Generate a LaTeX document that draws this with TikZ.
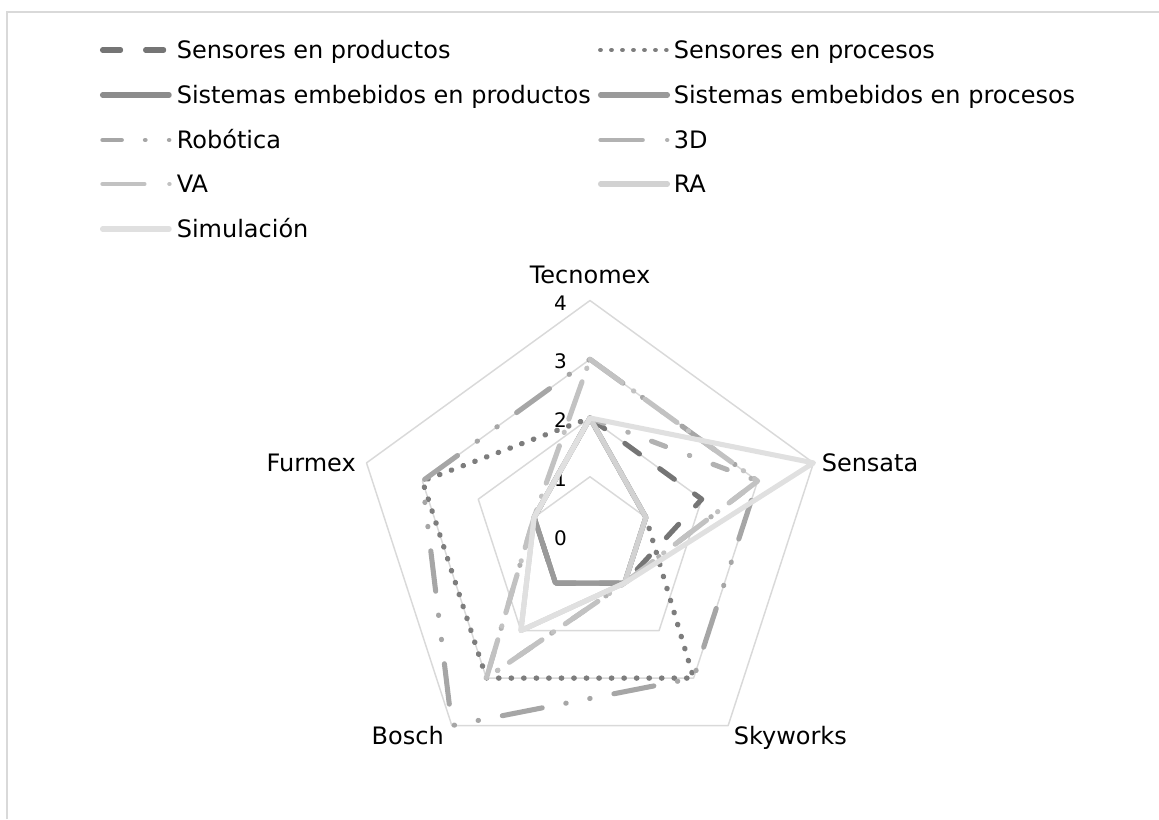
\documentclass[tikz,border=0pt]{standalone}
\usepackage{fontspec}
\setmainfont{DejaVu Sans}
\definecolor{gridc}{HTML}{D9D9D9}
\definecolor{cA}{HTML}{757575}
\definecolor{cB}{HTML}{7D7D7D}
\definecolor{cC}{HTML}{8C8C8C}
\definecolor{cD}{HTML}{9A9A9A}
\definecolor{cE}{HTML}{A6A6A6}
\definecolor{cF}{HTML}{B2B2B2}
\definecolor{cG}{HTML}{C2C2C2}
\definecolor{cH}{HTML}{D2D2D2}
\definecolor{cI}{HTML}{E0E0E0}
\begin{document}
\begin{tikzpicture}[x=0.75pt,y=-0.75pt,
  grid/.style={draw=gridc, line width=1.1pt, line join=round},
  ser/.style={line width=3.8pt, line cap=round, line join=round},
  sA/.style={ser, draw=cA, dash pattern=on 13.6pt off 18.7pt},
  sB/.style={ser, draw=cB, line width=4pt, dash pattern=on 0.3pt off 9.1pt},
  sC/.style={ser, draw=cC},
  sD/.style={ser, draw=cD},
  sE/.style={ser, draw=cE, dash pattern=on 30.5pt off 18.2pt on 0.3pt off 18pt on 0.3pt off 18pt},
  sF/.style={ser, draw=cF, dash pattern=on 11.3pt off 19pt on 0.3pt off 18.7pt},
  sG/.style={ser, draw=cG, dash pattern=on 29.7pt off 10.6pt on 0.3pt off 10.3pt},
  sH/.style={ser, draw=cH},
  sI/.style={ser, draw=cI},
  lab/.style={font=\fontsize{18pt}{22pt}\selectfont, inner sep=0pt, text=black},
  val/.style={font=\fontsize{15pt}{18pt}\selectfont, inner sep=0pt, anchor=east, text=black},
]
\useasboundingbox (0,0) rectangle (1159,819);
% chart area border (clipped by the page)
\coordinate (bTL) at (7,11.8);
\coordinate (bTR) at (1159,11.8);
\coordinate (bBL) at (7,819);
\draw[draw=gridc, line width=1.2pt] (bBL) -- (bTL) -- (bTR);

% axis coordinates: a1 Tecnomex, a2 Sensata, a3 Skyworks, a4 Bosch, a5 Furmex
\foreach \a/\ang in {1/90,2/18,3/-54,4/-126,5/162}{
  \foreach \v in {0,1,2,3,4}{
    \coordinate (a\a-\v) at ({590+58.75*\v*cos(\ang)},{535.5-58.75*\v*sin(\ang)});
  }
}
% gridlines
\foreach \v in {1,2,3,4}{
  \draw[grid] (a1-\v) -- (a2-\v) -- (a3-\v) -- (a4-\v) -- (a5-\v) -- cycle;
}
% value labels
\node[val] (v0) at (567,538) {0};
\node[val] (v1) at (567,479.3) {1};
\node[val] (v2) at (567,420.5) {2};
\node[val] (v3) at (567,361.7) {3};
\node[val] (v4) at (567,303) {4};
% category labels
\node[lab, anchor=base] (tec) at (590,283) {Tecnomex};
\node[lab, anchor=base west] (sen) at (821.5,471.5) {Sensata};
\node[lab, anchor=base west] (sky) at (733.5,744) {Skyworks};
\node[lab, anchor=base east] (bos) at (444,744) {Bosch};
\node[lab, anchor=base east] (fur) at (356,471.5) {Furmex};

% series
\draw[sA] (a1-2) -- (a2-2) -- (a3-1) -- (a4-1) -- (a5-1) -- cycle;
\draw[sB] (a1-2) -- (a2-1) -- (a3-3) -- (a4-3) -- (a5-3) -- cycle;
\draw[sC] (a1-2) -- (a2-1) -- (a3-1) -- (a4-1) -- (a5-1) -- cycle;
\draw[sD] (a1-2) -- (a2-1) -- (a3-1) -- (a4-1) -- (a5-1) -- cycle;
\draw[sE] (a1-3) -- (a2-3) -- (a3-3) -- (a4-4) -- (a5-3) -- cycle;
\draw[sF] (a1-2) -- (a2-3) -- (a3-1) -- (a4-3) -- (a5-1) -- cycle;
\draw[sG] (a1-3) -- (a2-3) -- (a3-1) -- (a4-3) -- (a5-1) -- cycle;
\draw[sH] (a1-2) -- (a2-1) -- (a3-1) -- (a4-2) -- (a5-1) -- cycle;
\draw[sI] (a1-2) -- (a2-4) -- (a3-1) -- (a4-2) -- (a5-1) -- cycle;

% legend
\coordinate (l1s) at (102.5,50); \coordinate (l1e) at (168,50);
\coordinate (l2s) at (600.25,50); \coordinate (l2e) at (666.5,50);
\coordinate (l3s) at (102.5,95); \coordinate (l3e) at (169.2,95);
\coordinate (l4s) at (600.5,95); \coordinate (l4e) at (667.5,95);
\coordinate (l5s) at (102.5,140); \coordinate (l5e) at (169.2,140);
\coordinate (l6s) at (600.5,140); \coordinate (l6e) at (667.2,140);
\coordinate (l7s) at (102.5,184); \coordinate (l7e) at (169.5,184);
\coordinate (l8s) at (600.5,184); \coordinate (l8e) at (667.5,184);
\coordinate (l9s) at (102.5,229); \coordinate (l9e) at (169.2,229);
\draw[ser, draw=cA, dash pattern=on 13.6pt off 18.7pt] (l1s) -- (l1e);
\draw[ser, draw=cB, line width=3.3pt, dash pattern=on 0.3pt off 7.95pt] (l2s) -- (l2e);
\draw[ser, draw=cC] (l3s) -- (l3e);
\draw[ser, draw=cD] (l4s) -- (l4e);
\draw[ser, draw=cE, line width=3.3pt, dash pattern=on 14.4pt off 17.5pt on 0.3pt off 17.7pt on 0.3pt off 30pt] (l5s) -- (l5e);
\draw[ser, draw=cF, line width=3.3pt, dash pattern=on 31.6pt off 18.4pt on 0.3pt off 30pt] (l6s) -- (l6e);
\draw[ser, draw=cG, line width=3.3pt, dash pattern=on 31.4pt off 18.8pt on 0.3pt off 30pt] (l7s) -- (l7e);
\draw[ser, draw=cH] (l8s) -- (l8e);
\draw[ser, draw=cI] (l9s) -- (l9e);
\node[lab, anchor=base west] (t1) at (176.5,58.75) {Sensores en productos};
\node[lab, anchor=base west] (t2) at (673.5,58.75) {Sensores en procesos};
\node[lab, anchor=base west] (t3) at (176.5,103.75) {Sistemas embebidos en productos};
\node[lab, anchor=base west] (t4) at (673.5,103.75) {Sistemas embebidos en procesos};
\node[lab, anchor=base west] (t5) at (176.5,148.75) {Robótica};
\node[lab, anchor=base west] (t6) at (673.5,148.75) {3D};
\node[lab, anchor=base west] (t7) at (176.5,192.75) {VA};
\node[lab, anchor=base west] (t8) at (673.5,192.75) {RA};
\node[lab, anchor=base west] (t9) at (176.5,237.75) {Simulación};
\end{tikzpicture}
\end{document}
